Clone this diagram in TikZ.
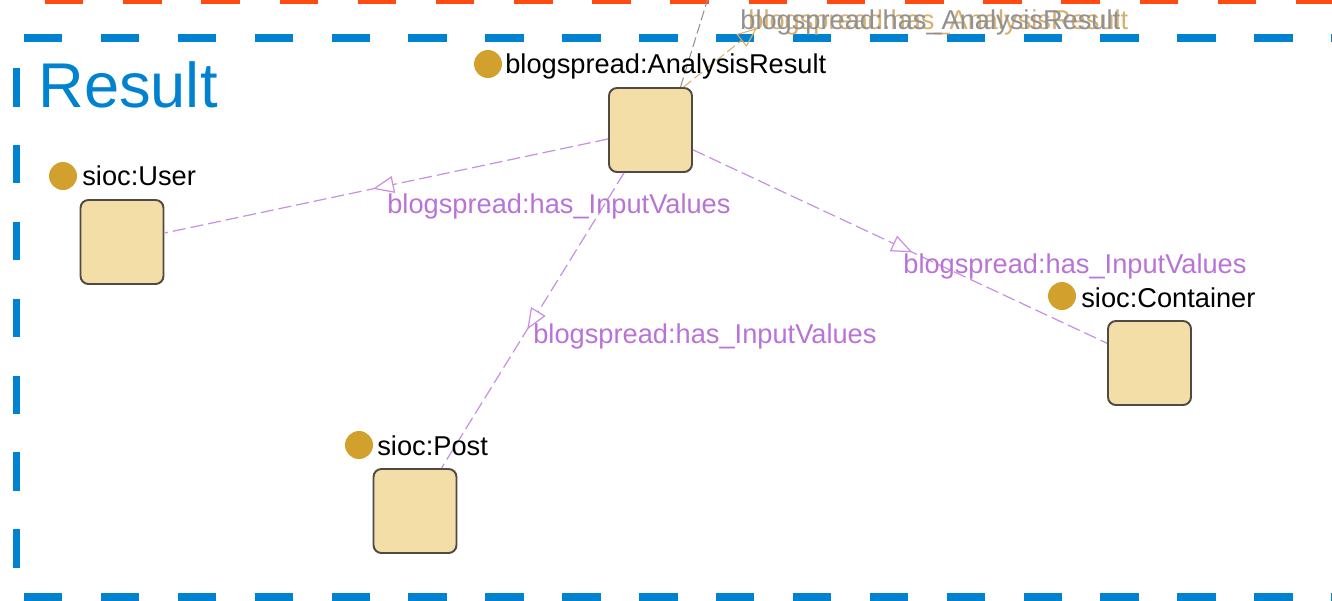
\documentclass[tikz,border=0pt]{standalone}
\usepackage{fontspec}
\setmainfont{Liberation Sans}
\usetikzlibrary{arrows.meta,decorations.markings}
\definecolor{frameblue}{RGB}{0,130,208}
\definecolor{frameorange}{RGB}{255,74,18}
\definecolor{boxfill}{RGB}{243,222,168}
\definecolor{boxline}{RGB}{80,74,66}
\definecolor{dotgold}{RGB}{210,160,45}
\definecolor{edgepurple}{RGB}{200,145,225}
\definecolor{textpurple}{RGB}{185,115,215}
\definecolor{loopgray}{RGB}{145,145,145}
\definecolor{looptan}{RGB}{215,175,110}

\begin{document}
\begin{tikzpicture}[x=0.02cm, y=-0.02cm,
    classbox/.style={draw=boxline, line width=1.1pt, fill=boxfill, rounded corners=4.5pt,
        minimum width=1.66cm, minimum height=1.68cm, inner sep=0pt},
    classdot/.style={circle, fill=dotgold, minimum size=0.56cm, inner sep=0pt},
    classname/.style={anchor=base west, inner sep=0pt, font=\fontsize{15.5}{18}\selectfont},
    propname/.style={classname, text=textpurple},
    relation/.style={draw=edgepurple, line width=0.7pt, dash pattern=on 0.26cm off 0.1cm,
        postaction={decorate}, decoration={markings, mark=at position 0.53 with
        {\arrow[solid, edgepurple, line width=0.7pt]{Triangle[open, length=0.42cm, width=0.34cm, fill=white]}}}},
    frame/.style={line width=4.5pt, dash pattern=on 0.77cm off 0.768cm}]
    \useasboundingbox (0,0) rectangle (1332,600);

    % Frames round the view
    \draw[frame, frameorange, dash pattern=on 0.77cm off 0.794cm] (45,0) -- (1340,0);
    \draw[frame, frameblue] (24,38) -- (1340,38);
    \draw[frame, frameblue] (16.5,68) -- (16.5,600);
    \draw[frame, frameblue] (24,597) -- (1340,597);
    \node[anchor=base west, inner sep=0pt, text=frameblue, font=\fontsize{36}{40}\selectfont] (title) at (38,107) {Result};

    % Classes
    \node[classbox] (ar) at (650.5,130) {};
    \node[classbox] (user) at (122,242) {};
    \node[classbox] (cont) at (1149.5,363) {};
    \node[classbox] (post) at (415,511) {};

    % Edge leaving the view at the top
    \coordinate (up) at (708,-2);
    \coordinate (loop) at (757,28);
    \draw[loopgray, line width=0.6pt, dash pattern=on 0.2cm off 0.08cm] ([xshift=0.6cm]ar.north) -- (up);
    \draw[looptan, line width=0.6pt, dash pattern=on 0.2cm off 0.08cm, -{Triangle[open, length=0.4cm, width=0.32cm]}] ([xshift=0.66cm]ar.north) -- (loop);
    \node[classname, text=looptan] (has-tan) at (748,29) {blogspread:has\_AnalysisResult};
    \node[classname, text=loopgray] (has-gray) at (740,29) {blogspread:has\_AnalysisResult};

    % Input value relations
    \draw[relation] (ar) -- (user);
    \draw[relation] (ar) -- (post);
    \draw[relation] (ar) -- (cont);
    \node[propname] (lbl-user) at (387,213) {blogspread:has\_InputValues};
    \node[propname] (lbl-post) at (533,343) {blogspread:has\_InputValues};
    \node[propname] (lbl-cont) at (903,273) {blogspread:has\_InputValues};

    % Class markers and names
    \node[classdot] (ar-dot) at (488,64) {};
    \node[classname] (ar-name) at (505,73) {blogspread:AnalysisResult};
    \node[classdot] (user-dot) at (63,176) {};
    \node[classname] (user-name) at (82,185) {sioc:User};
    \node[classdot] (cont-dot) at (1062,296) {};
    \node[classname] (cont-name) at (1081,307) {sioc:Container};
    \node[classdot] (post-dot) at (359,445) {};
    \node[classname] (post-name) at (377,455) {sioc:Post};
\end{tikzpicture}
\end{document}
